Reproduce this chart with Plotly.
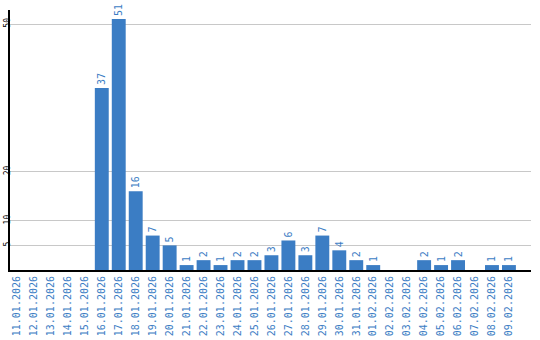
import plotly.graph_objects as go

dates = ["11.01.2026", "12.01.2026", "13.01.2026", "14.01.2026", "15.01.2026",
         "16.01.2026", "17.01.2026", "18.01.2026", "19.01.2026", "20.01.2026",
         "21.01.2026", "22.01.2026", "23.01.2026", "24.01.2026", "25.01.2026",
         "26.01.2026", "27.01.2026", "28.01.2026", "29.01.2026", "30.01.2026",
         "31.01.2026", "01.02.2026", "02.02.2026", "03.02.2026", "04.02.2026",
         "05.02.2026", "06.02.2026", "07.02.2026", "08.02.2026", "09.02.2026"]
values = [0, 0, 0, 0, 0, 37, 51, 16, 7, 5, 1, 2, 1, 2, 2, 3, 6, 3, 7, 4, 2, 1, 0, 0, 2, 1, 2, 0, 1, 1]
y_ticks = [5, 10, 20, 50]

blue = "#3b7dc4"
labels = [str(v) if v else "" for v in values]

fig = go.Figure(go.Bar(
    x=dates, y=values, text=labels, textposition="outside", textangle=-90,
    textfont=dict(color=blue, size=10, family="DejaVu Sans Mono"),
    marker=dict(color=blue, line=dict(width=0)), cliponaxis=False,
))
fig.update_layout(
    width=540, height=340, margin=dict(l=10, r=9, t=10, b=70),
    paper_bgcolor="white", plot_bgcolor="white", bargap=0.18,
    showlegend=False,
)
fig.update_xaxes(type="category", range=[-0.41, 30.3], tickangle=-90, automargin=False,
                 tickfont=dict(color=blue, size=10, family="DejaVu Sans Mono"),
                 showline=True, linecolor="black", linewidth=2, ticks="", showgrid=False)
fig.update_yaxes(range=[0, 52.85], tickvals=y_ticks, tickangle=-90, automargin=False,
                 ticklabelstandoff=-5,
                 tickfont=dict(color="black", size=8, family="DejaVu Sans Mono"),
                 showline=True, linecolor="black", linewidth=2, showgrid=True,
                 gridcolor="#c8c8c8", gridwidth=1, zeroline=False, ticks="")
fig.write_html("out.html")
